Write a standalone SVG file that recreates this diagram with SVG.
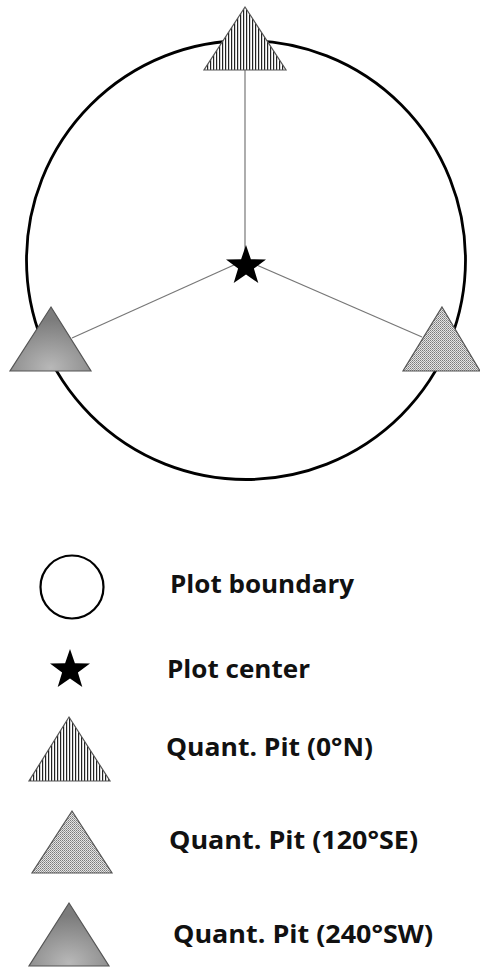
<svg xmlns="http://www.w3.org/2000/svg" width="480" height="969" viewBox="0 0 480 969">
<style>
.lbl{font-family:"Open Sans","Noto Sans","Liberation Sans",sans-serif;font-weight:700;font-size:25.5px;fill:#111}
.conn{stroke:#777;stroke-width:1.2;fill:none}
.tri{stroke:#555;stroke-width:1.2}
.star{fill:#000}
</style>
<defs>
<pattern id="hatch" width="3" height="3" patternUnits="userSpaceOnUse">
<rect width="3" height="3" fill="#fff"/>
<rect x="0" y="0" width="1.2" height="3" fill="#222"/>
</pattern>
<pattern id="dots" width="2" height="2" patternUnits="userSpaceOnUse">
<rect width="2" height="2" fill="#e4e4e4"/>
<rect x="0" y="0" width="1" height="1" fill="#7a7a7a"/>
<rect x="1" y="1" width="1" height="1" fill="#9a9a9a"/>
</pattern>
<radialGradient id="grad" cx="0.5" cy="0.95" r="0.75">
<stop offset="0" stop-color="#b8b8b8"/>
<stop offset="1" stop-color="#7c7c7c"/>
</radialGradient>
<polygon id="starShape" points="0,-21 4.9,-6.8 20,-6.5 7.9,2.6 12.3,17 0,8.5 -12.3,17 -7.9,2.6 -20,-6.5 -4.9,-6.8"/>
</defs>
<rect width="480" height="969" fill="#fff"/>

<g id="plot-boundary">
<circle cx="246" cy="260" r="219.5" fill="none" stroke="#000" stroke-width="2.8"/>
</g>

<g id="connectors">
<line class="conn" x1="245" y1="70" x2="245" y2="260"/>
<line class="conn" x1="72" y1="338" x2="245" y2="260"/>
<line class="conn" x1="422" y1="337" x2="245" y2="260"/>
</g>

<g id="pit-north">
<polygon class="tri" points="245,7 286,70 204,70" fill="url(#hatch)"/>
</g>
<g id="pit-southeast">
<polygon class="tri" points="442,307 480,371 403,371" fill="url(#dots)"/>
</g>
<g id="pit-southwest">
<polygon class="tri" points="51,307 91,371 10,371" fill="url(#grad)"/>
</g>
<g id="plot-center">
<use href="#starShape" class="star" x="246" y="266"/>
</g>

<g id="legend-boundary">
<circle cx="72" cy="587" r="31.5" fill="none" stroke="#000" stroke-width="2.2"/>
<text class="lbl" x="170" y="593" textLength="184" lengthAdjust="spacingAndGlyphs">Plot boundary</text>
</g>
<g id="legend-center">
<use href="#starShape" class="star" x="70" y="670"/>
<text class="lbl" x="167" y="678" textLength="143" lengthAdjust="spacingAndGlyphs">Plot center</text>
</g>
<g id="legend-north">
<polygon class="tri" points="69,717 110,781 29,781" fill="url(#hatch)"/>
<text class="lbl" x="166" y="756" textLength="207" lengthAdjust="spacingAndGlyphs">Quant. Pit (0°N)</text>
</g>
<g id="legend-southeast">
<polygon class="tri" points="72,811 112,873 32,873" fill="url(#dots)"/>
<text class="lbl" x="169" y="849" textLength="249" lengthAdjust="spacingAndGlyphs">Quant. Pit (120°SE)</text>
</g>
<g id="legend-southwest">
<polygon class="tri" points="69,903 109,966 29,966" fill="url(#grad)"/>
<text class="lbl" x="173" y="943" textLength="260" lengthAdjust="spacingAndGlyphs">Quant. Pit (240°SW)</text>
</g>
</svg>
